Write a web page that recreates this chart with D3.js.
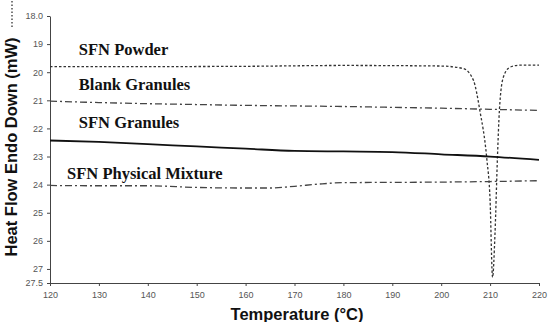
<!DOCTYPE html>
<html>
<head>
<meta charset="utf-8">
<script src="https://cdn.jsdelivr.net/npm/d3@7"></script>
<style>
  html, body { margin: 0; padding: 0; background: #fff; }
  svg { display: block; }
  .tick text { font-family: "Liberation Sans", Arial, sans-serif; font-size: 9px; fill: #555; }
  .axis path, .axis line { stroke: #444; }
</style>
</head>
<body>
<div id="chart"></div>
<script>
// DSC thermograms – heat flow (endo down)

const yTicks = [18, 19, 20, 21, 22, 23, 24, 25, 26, 27, 27.5];
const xTicks = [120, 130, 140, 150, 160, 170, 180, 190, 200, 210, 220];

const powderT = [120, 140, 160, 180, 200, 204.5, 206.6, 207.9, 209.3, 210.0, 210.5, 211.0, 211.5, 211.9, 212.7, 214.1, 216.1, 220];
const powderV = [19.8, 19.8, 19.79, 19.76, 19.78, 19.87, 20.29, 21.36, 23.04, 24.57, 27.3, 25.75, 23.04, 21.36, 20.18, 19.82, 19.75, 19.75];

const blankT = [120, 130, 140, 150, 160, 170, 180, 190, 200, 210, 220];
const blankV = [21.03, 21.08, 21.12, 21.15, 21.18, 21.2, 21.22, 21.25, 21.28, 21.32, 21.36];

const granT = [120, 130, 140, 150, 160, 170, 180, 190, 200, 210, 220];
const granV = [22.43, 22.48, 22.56, 22.64, 22.72, 22.8, 22.82, 22.84, 22.92, 23.0, 23.12];

const mixT = [120, 130, 140, 150, 160, 165, 170, 175, 180, 190, 200, 210, 220];
const mixV = [24.03, 24.04, 24.04, 24.1, 24.12, 24.12, 24.06, 23.98, 23.93, 23.92, 23.91, 23.89, 23.86];

const labels = [
  { text: "SFN Powder", t: 125.9, v: 19.4 },
  { text: "Blank Granules", t: 125.9, v: 20.65 },
  { text: "SFN Granules", t: 125.9, v: 22.0 },
  { text: "SFN Physical Mixture", t: 123.5, v: 23.8 }
];

const width = 550, height = 322;
const svg = d3.select("#chart").append("svg")
  .attr("width", width).attr("height", height);

const x = d3.scaleLinear().domain([120, 220]).range([50, 539]);
const y = d3.scaleLinear().domain([18, 27.5]).range([16, 283]);

// axes
svg.append("g").attr("class", "axis")
  .attr("transform", "translate(0,283)")
  .call(d3.axisBottom(x).tickValues(xTicks).tickSize(3).tickSizeOuter(0).tickPadding(4))
  .call(g => g.selectAll("text").attr("dy", "0.9em"));

svg.append("g").attr("class", "axis")
  .attr("transform", "translate(50,0)")
  .call(d3.axisLeft(y).tickValues(yTicks).tickSize(3).tickSizeOuter(0).tickPadding(4)
    .tickFormat(v => v === 18 ? "18.0" : (Number.isInteger(v) ? String(v) : v.toFixed(1))));

// series
const series = [
  { t: powderT, v: powderV, dash: "2.5,2", w: 1.3, color: "#333" },
  { t: blankT, v: blankV, dash: "7,3,2,3", w: 1.3, color: "#444" },
  { t: granT, v: granV, dash: null, w: 1.8, color: "#111" },
  { t: mixT, v: mixV, dash: "7,3,2,3", w: 1.3, color: "#444" }
];

const line = d3.line().x(d => x(d[0])).y(d => y(d[1])).curve(d3.curveMonotoneX);

series.forEach(s => {
  svg.append("path")
    .datum(s.t.map((t, i) => [t, s.v[i]]))
    .attr("fill", "none")
    .attr("stroke", s.color)
    .attr("stroke-width", s.w)
    .attr("stroke-dasharray", s.dash)
    .attr("d", line);
});

// series labels
svg.selectAll("text.lbl").data(labels).enter().append("text")
  .attr("class", "lbl")
  .attr("x", d => x(d.t))
  .attr("y", d => y(d.v))
  .attr("font-family", "'Liberation Serif', 'Times New Roman', serif")
  .attr("font-weight", "bold")
  .attr("font-size", 16.5)
  .attr("fill", "#111")
  .text(d => d.text);

// axis titles
svg.append("text")
  .attr("transform", "translate(17,147) rotate(-90)")
  .attr("text-anchor", "middle")
  .attr("font-family", "'Liberation Sans', Arial, sans-serif")
  .attr("font-weight", "bold")
  .attr("font-size", 16.5)
  .attr("fill", "#111")
  .text("Heat Flow Endo Down (mW)");

svg.append("line")
  .attr("x1", 12).attr("x2", 12).attr("y1", 1).attr("y2", 28)
  .attr("stroke", "#333").attr("stroke-width", 1.3)
  .attr("stroke-dasharray", "1.5,2");

svg.append("text")
  .attr("x", 297).attr("y", 320)
  .attr("text-anchor", "middle")
  .attr("font-family", "'Liberation Sans', Arial, sans-serif")
  .attr("font-weight", "bold")
  .attr("font-size", 16.5)
  .attr("fill", "#111")
  .text("Temperature (°C)");
</script>
</body>
</html>
